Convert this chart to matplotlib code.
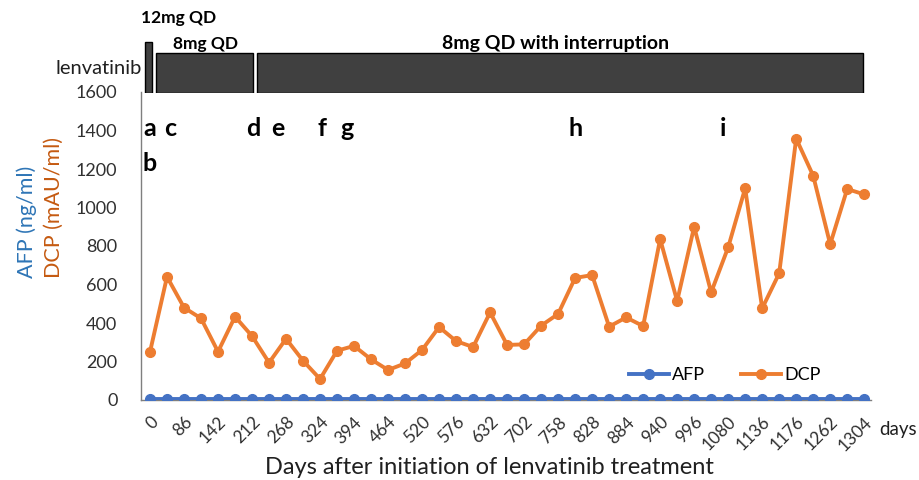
import numpy as np
import matplotlib
matplotlib.use('Agg')
import matplotlib.pyplot as plt

plt.rcParams['font.family'] = ['Lato', 'DejaVu Sans']

# ----------------------------------------------------------------
# data (43 visits, every second one labelled on the x axis)

tick_days = [0, 86, 142, 212, 268, 324, 394, 464, 520, 576, 632,
             702, 758, 828, 884, 940, 996, 1080, 1136, 1176, 1262, 1304]

dcp = [250, 640, 480, 424, 251, 433, 332, 194, 318, 204, 109,
       256, 281, 211, 156, 190, 260, 379, 306, 275, 455, 286,
       289, 386, 447, 634, 649, 381, 429, 384, 836, 514, 900,
       559, 793, 1100, 476, 658, 1358, 1165, 809, 1096, 1068]

afp = [4, 4, 4, 4, 4, 4, 4, 4, 4, 4, 4,
       4, 4, 4, 4, 4, 4, 4, 4, 4, 4, 4,
       4, 4, 4, 4, 4, 4, 4, 4, 4, 4, 4,
       4, 4, 4, 4, 4, 4, 4, 4, 4, 4]

# event letters: (label, visit position, level)
events = [('a', 0, 1410), ('c', 1.17, 1410), ('b', 0, 1230),
          ('d', 6.1, 1410), ('e', 7.5, 1410), ('f', 10.1, 1410),
          ('g', 11.6, 1410), ('h', 25.0, 1410), ('i', 33.7, 1410)]

# dosing periods: (start, end, label)
doses = [(-0.29, 0.12, '12mg QD'), (0.35, 6.05, '8mg QD'),
         (6.29, 41.95, '8mg QD with interruption')]

# ----------------------------------------------------------------

blue = '#4472C4'
orange = '#ED7D31'
xlim = (-0.53, 42.4)

W, H = 920, 480
fig = plt.figure(figsize=(W / 100, H / 100), dpi=100)
ax = fig.add_axes([141 / W, 80 / H, 730 / W, 308 / H])

x = np.arange(len(dcp))
ax.plot(x, afp, color=blue, lw=2.8, marker='o', ms=7, label='AFP', zorder=3)
ax.plot(x, dcp, color=orange, lw=2.8, marker='o', ms=7, label='DCP', zorder=3)

ax.set_xlim(*xlim)
ax.set_ylim(0, 1600)
ax.set_yticks(range(0, 1601, 200))
ax.tick_params(axis='y', length=0, pad=17, labelsize=13, labelcolor='#303030')
ax.set_xticks(x[::2])
ax.set_xticklabels([str(d) for d in tick_days], rotation=45, ha='right',
                   va='top', rotation_mode='anchor')
ax.tick_params(axis='x', length=0, pad=10, labelsize=12.5, labelcolor='#303030')
for s in ['top', 'right']:
    ax.spines[s].set_visible(False)
for s in ['left', 'bottom']:
    ax.spines[s].set_color('#7f7f7f')
    ax.spines[s].set_linewidth(1.0)

for lab, pos, lev in events:
    ax.text(pos, lev, lab, ha='center', va='center', fontsize=18,
            fontweight='bold', color='black')

ax.legend(loc='center', bbox_to_anchor=(0.8, 0.08), ncol=2, frameon=False,
          fontsize=13, handlelength=2.2, handletextpad=0.2, columnspacing=2.0)

fig.text(489 / W, 1 - 467 / H, 'Days after initiation of lenvatinib treatment',
         ha='center', va='center', fontsize=17, color='#202020')
fig.text(898 / W, 1 - 430 / H, 'days', ha='center', va='center', fontsize=13.5,
         color='#202020')
fig.text(27 / W, 1 - 278 / H, 'AFP (ng/ml)', rotation=90, ha='center',
         va='bottom', fontsize=15.5, color='#2E75B6')
fig.text(54 / W, 1 - 278 / H, 'DCP (mAU/ml)', rotation=90, ha='center',
         va='bottom', fontsize=15.5, color='#C55A11')

# dosing bars above the plot
top = fig.add_axes([141 / W, (H - 93) / H, 730 / W, 55 / H])
top.set_xlim(*xlim)
top.set_ylim(0, 55)
top.axis('off')
for i, (a, b, lab) in enumerate(doses):
    h = 51 if i == 0 else 40
    top.bar(a, h, width=b - a, align='edge', color='#404040',
            edgecolor='black', linewidth=1.0)
fig.text(179 / W, 1 - 18 / H, doses[0][2], ha='center', va='center',
         fontsize=12.5, fontweight='bold')
fig.text(206 / W, 1 - 44 / H, doses[1][2], ha='center', va='center',
         fontsize=12.5, fontweight='bold')
fig.text(556 / W, 1 - 44 / H, doses[2][2], ha='center', va='center',
         fontsize=14, fontweight='bold')
fig.text(142 / W, 1 - 68 / H, 'lenvatinib', ha='right', va='center',
         fontsize=14.5, color='#202020')

fig.savefig('out.png', dpi=100)
